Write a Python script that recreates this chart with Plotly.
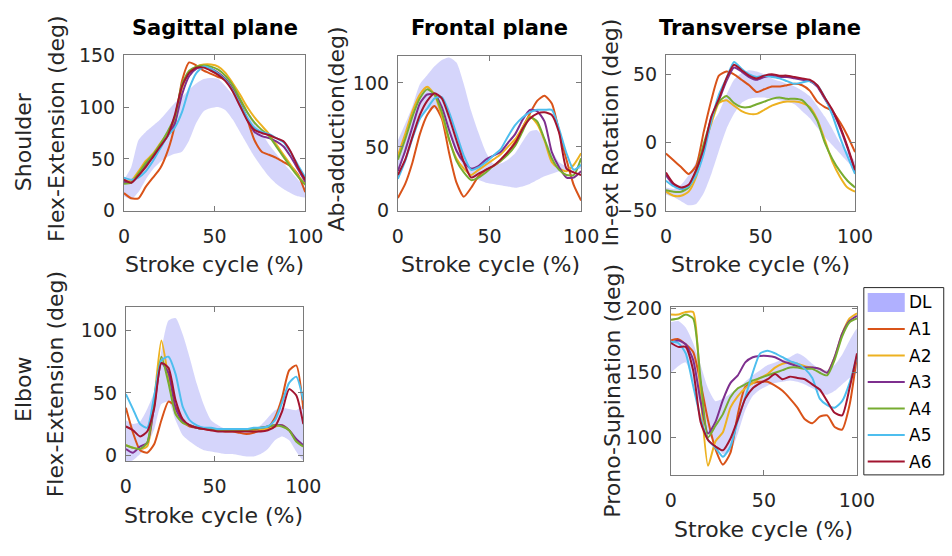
import plotly.graph_objects as go

# Stroke cycle sample points (%)
stroke = list(range(0, 101, 4))

series_names = ["A1", "A2", "A3", "A4", "A5", "A6"]
series_colors = ["#D95319", "#EDB120", "#7E2F8E", "#77AC30", "#4DBEEE", "#A2142F"]
band_name = "DL"

# ---- Shoulder, sagittal plane (flex-extension, deg)
sag_dl_upper = [30, 42, 68, 76, 82, 88, 96, 104, 110, 117, 123, 127, 128, 127, 120, 112, 105, 97, 86, 75, 64, 55, 46, 38, 30, 22]
sag_dl_lower = [14, 11, 18, 30, 40, 47, 52, 55, 57, 68, 85, 96, 99, 100, 97, 88, 76, 64, 52, 42, 33, 26, 21, 17, 14, 13]
sag_A1 = [17, 12, 12, 23, 32, 41, 57, 82, 125, 143, 140, 135, 132, 129, 126, 118, 105, 88, 68, 57, 54, 51, 47, 43, 35, 18]
sag_A2 = [28, 29, 38, 48, 55, 65, 75, 88, 118, 134, 139, 141, 141, 139, 133, 123, 112, 100, 90, 82, 74, 64, 54, 44, 34, 26]
sag_A3 = [28, 27, 34, 44, 52, 62, 72, 84, 112, 130, 137, 139, 137, 133, 127, 117, 103, 88, 76, 72, 70, 67, 62, 52, 40, 28]
sag_A4 = [26, 27, 36, 46, 54, 64, 76, 90, 122, 135, 139, 140, 139, 136, 130, 121, 108, 95, 85, 78, 72, 62, 52, 42, 33, 25]
sag_A5 = [32, 30, 32, 38, 48, 60, 72, 80, 95, 118, 133, 139, 137, 132, 126, 116, 103, 90, 80, 76, 74, 70, 66, 56, 44, 32]
sag_A6 = [30, 27, 34, 42, 52, 62, 72, 92, 120, 133, 138, 138, 135, 131, 125, 115, 101, 87, 78, 75, 73, 70, 67, 57, 42, 30]

# ---- Shoulder, frontal plane (ab-adduction, deg)
fro_dl_upper = [55, 68, 82, 99, 106, 113, 118, 120, 116, 99, 78, 61, 46, 37, 37, 40, 45, 54, 62, 63, 56, 47, 38, 35, 33, 36]
fro_dl_lower = [32, 44, 57, 71, 79, 80, 74, 60, 45, 34, 27, 24, 22, 21, 20, 19, 18, 19, 21, 24, 27, 29, 31, 32, 32, 33]
fro_A1 = [10, 21, 38, 60, 75, 82, 72, 45, 22, 11, 18, 27, 32, 35, 39, 46, 54, 65, 76, 86, 90, 84, 62, 40, 20, 8]
fro_A2 = [43, 60, 78, 91, 97, 91, 74, 55, 41, 33, 28, 32, 36, 40, 44, 50, 56, 65, 74, 68, 55, 38, 33, 31, 36, 45]
fro_A3 = [31, 47, 66, 84, 91, 91, 81, 63, 47, 38, 33, 35, 40, 43, 46, 53, 60, 71, 79, 78, 70, 46, 34, 26, 26, 31]
fro_A4 = [40, 56, 74, 88, 95, 91, 77, 56, 39, 30, 24, 26, 30, 35, 39, 44, 51, 62, 73, 70, 56, 41, 32, 28, 28, 41]
fro_A5 = [25, 39, 57, 72, 80, 88, 89, 77, 60, 43, 32, 34, 38, 43, 48, 58, 67, 73, 77, 79, 79, 79, 64, 45, 32, 36]
fro_A6 = [28, 40, 58, 75, 86, 92, 88, 73, 55, 38, 26, 29, 32, 35, 40, 46, 53, 64, 72, 76, 77, 75, 61, 33, 30, 28]

# ---- Shoulder, transverse plane (in-ext rotation, deg)
tra_dl_upper = [-33, -34, -31, -24, -14, 0, 13, 22, 35, 46, 51, 53, 52, 50, 47, 45, 43, 41, 38, 34, 27, 19, 10, 0, -7, -14]
tra_dl_lower = [-38, -40, -43, -46, -45, -37, -23, -6, 10, 21, 29, 32, 33, 33, 32, 31, 30, 28, 23, 18, 11, 4, -2, -8, -14, -19]
tra_A1 = [-8, -13, -18, -23, -17, 8, 31, 49, 52, 50, 46, 42, 37, 39, 41, 41, 42, 43, 42, 38, 30, 26, 23, 15, 5, -7]
tra_A2 = [-36, -39, -39, -36, -25, -4, 14, 29, 31, 27, 23, 21, 21, 24, 27, 29, 30, 30, 29, 26, 17, 2, -14, -25, -33, -36]
tra_A3 = [-24, -31, -34, -32, -21, -5, 18, 31, 45, 55, 52, 48, 46, 48, 49, 48, 48, 47, 46, 45, 41, 32, 23, 11, -4, -21]
tra_A4 = [-35, -36, -36, -33, -21, -1, 17, 30, 34, 29, 26, 26, 28, 30, 32, 33, 32, 32, 31, 25, 16, 0, -12, -21, -28, -33]
tra_A5 = [-28, -32, -34, -32, -24, -8, 16, 35, 47, 59, 54, 50, 48, 49, 48, 47, 45, 43, 44, 45, 42, 33, 20, 4, -10, -23]
tra_A6 = [-22, -30, -33, -31, -20, -4, 19, 32, 47, 57, 53, 49, 47, 49, 50, 49, 49, 48, 47, 46, 42, 33, 24, 12, -3, -20]

# ---- Elbow (flex-extension, deg)
elb_dl_upper = [28, 25, 27, 37, 51, 84, 108, 110, 97, 78, 57, 40, 28, 24, 21, 20, 20, 20, 21, 24, 30, 36, 38, 37, 36, 40]
elb_dl_lower = [-6, -4, 1, 8, 21, 41, 43, 28, 16, 11, 7, 4, 3, 2, 1, 1, 0, -1, -1, 1, 5, 12, 15, 12, 3, -4]
elb_A1 = [38, 18, 4, 2, 9, 28, 43, 39, 27, 23, 22, 21, 20, 20, 19, 19, 18, 17, 18, 20, 22, 30, 46, 68, 72, 37]
elb_A2 = [8, 6, 5, 7, 45, 92, 62, 34, 26, 24, 22, 21, 21, 20, 20, 20, 20, 20, 20, 21, 21, 23, 24, 20, 12, 7]
elb_A3 = [5, 2, 7, 10, 40, 74, 66, 38, 27, 24, 22, 21, 21, 20, 20, 20, 20, 20, 21, 22, 23, 24, 24, 20, 13, 8]
elb_A4 = [8, 6, 5, 10, 45, 79, 58, 33, 26, 24, 22, 21, 21, 20, 20, 20, 20, 20, 21, 22, 23, 24, 23, 20, 11, 7]
elb_A5 = [49, 37, 25, 22, 48, 76, 79, 65, 39, 28, 24, 22, 22, 21, 21, 21, 21, 21, 22, 22, 23, 28, 42, 58, 63, 44]
elb_A6 = [23, 20, 15, 19, 38, 74, 70, 44, 29, 24, 22, 21, 20, 19, 19, 19, 19, 19, 19, 19, 20, 23, 35, 53, 48, 25]

# ---- Forearm (prono-supination, deg)
pro_dl_upper = [189, 190, 185, 173, 156, 138, 128, 130, 134, 138, 143, 148, 152, 156, 158, 160, 162, 165, 162, 157, 153, 152, 156, 164, 175, 184]
pro_dl_lower = [150, 155, 158, 143, 124, 103, 95, 87, 89, 103, 121, 132, 137, 140, 142, 143, 144, 143, 141, 138, 135, 133, 136, 141, 146, 150]
pro_A1 = [175, 176, 172, 166, 142, 113, 91, 79, 88, 118, 139, 142, 143, 143, 140, 136, 130, 123, 114, 111, 116, 117, 108, 106, 125, 163]
pro_A2 = [195, 195, 197, 197, 132, 78, 97, 104, 123, 132, 138, 142, 146, 149, 154, 157, 158, 157, 155, 154, 153, 150, 162, 180, 192, 196]
pro_A3 = [173, 175, 172, 160, 128, 103, 112, 129, 142, 148, 158, 162, 163, 163, 162, 159, 157, 155, 154, 154, 153, 150, 162, 180, 190, 194]
pro_A4 = [191, 192, 195, 192, 145, 100, 109, 118, 131, 138, 141, 144, 146, 148, 150, 152, 154, 154, 153, 153, 150, 148, 160, 178, 189, 192]
pro_A5 = [174, 173, 165, 140, 115, 98, 92, 85, 93, 113, 131, 150, 165, 167, 165, 162, 159, 157, 153, 146, 130, 125, 123, 128, 142, 163]
pro_A6 = [173, 170, 170, 152, 112, 98, 93, 90, 99, 114, 130, 138, 142, 145, 149, 145, 147, 146, 145, 141, 137, 128, 119, 117, 138, 165]

panels = [
    dict(title="Sagittal plane", ylabel=["Shoulder", "Flex-Extension (deg)"],
         band=(sag_dl_lower, sag_dl_upper),
         lines=[sag_A1, sag_A2, sag_A3, sag_A4, sag_A5, sag_A6],
         yrange=[0, 150], yticks=[0, 50, 100, 150], box=(121, 307, 46, 208)),
    dict(title="Frontal plane", ylabel=["Ab-adduction(deg)"],
         band=(fro_dl_lower, fro_dl_upper),
         lines=[fro_A1, fro_A2, fro_A3, fro_A4, fro_A5, fro_A6],
         yrange=[0, 121], yticks=[0, 50, 100], box=(402, 590, 47, 208)),
    dict(title="Transverse plane", ylabel=["In-ext Rotation (deg)"],
         band=(tra_dl_lower, tra_dl_upper),
         lines=[tra_A1, tra_A2, tra_A3, tra_A4, tra_A5, tra_A6],
         yrange=[-50, 64], yticks=[-50, 0, 50], box=(677, 871, 46, 208)),
    dict(title=None, ylabel=["Elbow", "Flex-Extension (deg)"],
         band=(elb_dl_lower, elb_dl_upper),
         lines=[elb_A1, elb_A2, elb_A3, elb_A4, elb_A5, elb_A6],
         yrange=[-5, 119], yticks=[0, 50, 100], box=(123, 305, 308, 469)),
    dict(title=None, ylabel=["Prono-Supination (deg)"],
         band=(pro_dl_lower, pro_dl_upper),
         lines=[pro_A1, pro_A2, pro_A3, pro_A4, pro_A5, pro_A6],
         yrange=[71, 201], yticks=[100, 150, 200], box=(682, 873, 308, 483)),
]

W, H = 952, 556
FONT = "DejaVu Sans"
TXT = "#262626"
AXIS_LINE = "#7a7a7a"
BAND_FILL = "rgba(150,150,245,0.40)"


def px(x):
    return x / W


def py(y):
    return 1 - y / H


fig = go.Figure()
layout = dict(
    width=W, height=H, margin=dict(l=0, r=0, t=0, b=0),
    paper_bgcolor="white", plot_bgcolor="white", showlegend=False,
    font=dict(family=FONT, color=TXT),
)
annotations = []
shapes = []

# label anchor points in pixels
ylabel_pos = [
    [(18, 136), (51, 122)],
    [(339, 123)],
    [(620, 126)],
    [(18, 394), (51, 388)],
    [(622, 395)],
]
xlabel_pos = [(214, 264), (497, 264), (774, 264), (213, 525), (777, 540)]
title_y = 18

for i, p in enumerate(panels, start=1):
    xa = f"x{i}" if i > 1 else "x"
    ya = f"y{i}" if i > 1 else "y"
    l, r, t, b = p["box"]
    lower, upper = p["band"]
    fig.add_trace(go.Scatter(
        x=stroke + stroke[::-1], y=upper + lower[::-1],
        fill="toself", fillcolor=BAND_FILL, line=dict(width=0, shape="spline", smoothing=0.6),
        mode="lines", name=band_name, hoverinfo="skip",
        xaxis=xa, yaxis=ya))
    for name, color, ys in zip(series_names, series_colors, p["lines"]):
        fig.add_trace(go.Scatter(
            x=stroke, y=ys, mode="lines", name=name,
            line=dict(color=color, width=2, shape="spline", smoothing=0.6),
            xaxis=xa, yaxis=ya))
    axis_common = dict(
        showgrid=False, zeroline=False, showline=True, linecolor=AXIS_LINE,
        linewidth=1, mirror="ticks", ticks="inside", ticklen=5,
        tickcolor=AXIS_LINE, tickfont=dict(family=FONT, size=19, color=TXT),
    )
    layout["xaxis" + ("" if i == 1 else str(i))] = dict(
        axis_common, domain=[px(l), px(r)], anchor=ya, range=[0, 100],
        tickvals=[0, 50, 100], ticklabelstandoff=8)
    layout["yaxis" + ("" if i == 1 else str(i))] = dict(
        axis_common, domain=[py(b), py(t)], anchor=xa, range=p["yrange"],
        tickvals=p["yticks"], ticklabelstandoff=4)
    if p["title"]:
        annotations.append(dict(
            text=f"<b>{p['title']}</b>", x=px((l + r) / 2), y=py(title_y),
            xref="paper", yref="paper", showarrow=False,
            font=dict(family=FONT, size=21, color="black"),
            xanchor="center", yanchor="middle"))
    for text, (lx, ly) in zip(p["ylabel"], ylabel_pos[i - 1]):
        annotations.append(dict(
            text=text, x=px(lx), y=py(ly), xref="paper", yref="paper",
            showarrow=False, textangle=-90, font=dict(family=FONT, size=22, color=TXT),
            xanchor="center", yanchor="middle"))
    lx, ly = xlabel_pos[i - 1]
    annotations.append(dict(
        text="Stroke cycle (%)", x=px(lx), y=py(ly), xref="paper", yref="paper",
        showarrow=False, font=dict(family=FONT, size=22, color=TXT),
        xanchor="center", yanchor="middle"))

# Legend box drawn beside the prono-supination panel
leg_left, leg_top, leg_bottom = 880, 288, 483
shapes.append(dict(type="rect", xref="paper", yref="paper",
                   x0=px(leg_left), x1=px(W + 10), y0=py(leg_bottom), y1=py(leg_top),
                   line=dict(color="#262626", width=1), fillcolor="white", layer="above"))
row0, row_step = 303.5, 27.6
key_x0, key_x1, text_x = 884, 922, 924
shapes.append(dict(type="rect", xref="paper", yref="paper",
                   x0=px(key_x0), x1=px(key_x1), y0=py(row0 + 10), y1=py(row0 - 10),
                   line=dict(width=0), fillcolor="#B0B0FF", layer="above"))
annotations.append(dict(text=band_name, x=px(text_x), y=py(row0), xref="paper", yref="paper",
                        showarrow=False, xanchor="left", yanchor="middle",
                        font=dict(family=FONT, size=17, color="black")))
for k, (name, color) in enumerate(zip(series_names, series_colors), start=1):
    yy = row0 + k * row_step
    shapes.append(dict(type="line", xref="paper", yref="paper",
                       x0=px(key_x0), x1=px(key_x1), y0=py(yy), y1=py(yy),
                       line=dict(color=color, width=2), layer="above"))
    annotations.append(dict(text=name, x=px(text_x), y=py(yy), xref="paper", yref="paper",
                            showarrow=False, xanchor="left", yanchor="middle",
                            font=dict(family=FONT, size=17, color="black")))

layout["annotations"] = annotations
layout["shapes"] = shapes
fig.update_layout(**layout)
fig.write_html("out.html")
